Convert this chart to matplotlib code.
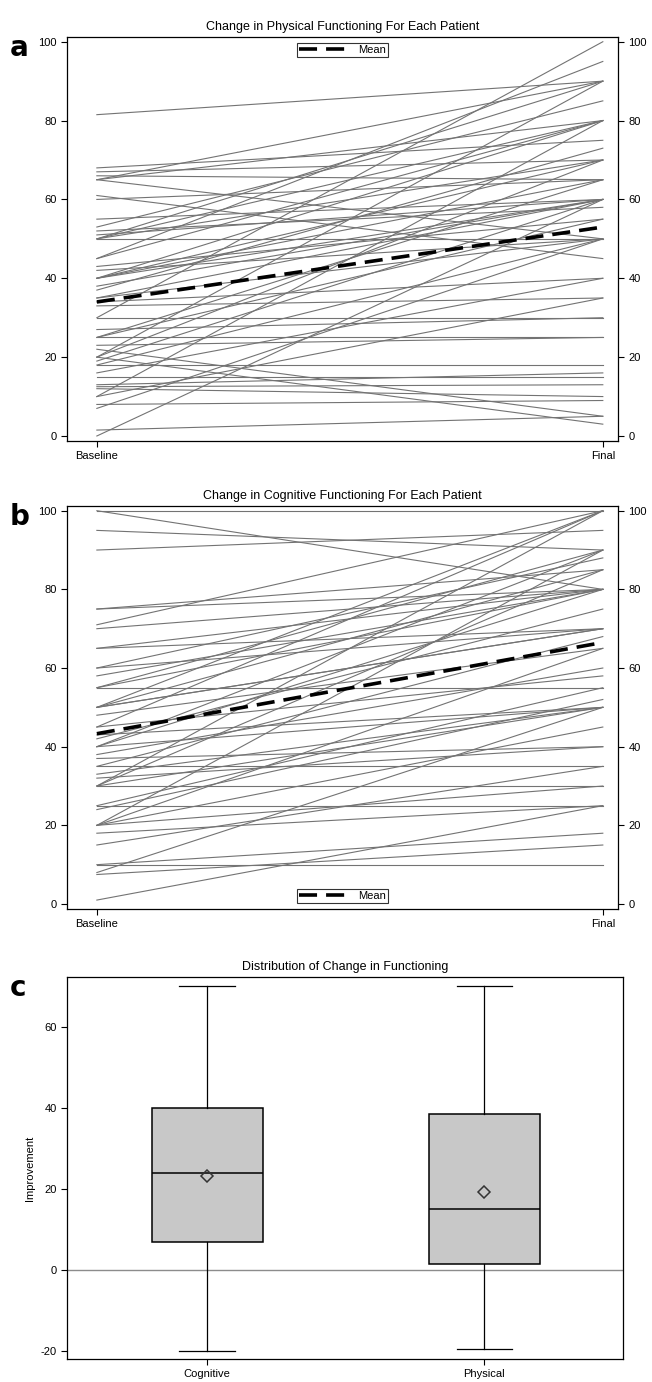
import matplotlib
matplotlib.use("Agg")
import matplotlib.pyplot as plt
import numpy as np

plt.rcParams['font.family'] = ['Liberation Sans', 'DejaVu Sans']
plt.rcParams['axes.unicode_minus'] = False

# physical functioning, baseline -> final for each patient
phys_base = [81.5, 68, 67, 66, 65, 65, 61, 60, 55, 53, 52, 51, 50, 50, 50, 45, 45, 43, 42,
             40, 40, 40, 38, 37, 35, 35, 34, 33, 30, 27, 25, 25, 23, 22, 30, 20, 20, 19,
             18, 18, 16, 15, 13, 12.5, 12, 10, 10, 8, 7, 1.5, 0, 20, 65, 25, 40, 50]
phys_final = [90, 75, 70, 65, 50, 80, 45, 65, 60, 85, 58, 60, 50, 90, 70, 95, 80, 55, 50,
              80, 70, 65, 60, 73, 60, 50, 40, 35, 30, 30, 65, 25, 25, 5, 100, 90, 70, 60,
              18, 50, 40, 15, 16, 13, 10, 80, 35, 9, 50, 5, 60, 3, 90, 55, 60, 80]
phys_mean = [34, 53]

# cognitive functioning, baseline -> final for each patient
cog_base = [100, 100, 95, 90, 75, 75, 71, 70, 65, 60, 60, 58, 55, 55, 50, 50, 50, 48, 45,
            45, 43, 42, 40, 40, 38, 37, 35, 35, 33, 32, 30, 30, 30, 25, 25, 24, 20, 20,
            20, 20, 18, 15, 10, 10, 8, 7.5, 1, 65, 55, 50, 40, 30]
cog_final = [80, 100, 90, 95, 85, 80, 100, 80, 80, 88, 70, 80, 90, 55, 100, 70, 85, 65, 100,
             58, 50, 75, 90, 50, 60, 40, 68, 35, 50, 40, 100, 30, 85, 55, 25, 52, 90, 65,
             45, 30, 25, 35, 10, 18, 50, 15, 25, 70, 80, 70, 80, 50]
cog_mean = [43.3, 66.5]

time_labels = ['Baseline', 'Final']

# box statistics of improvement (final - baseline)
groups = ['Cognitive', 'Physical']
box_lo = [-20, -19.5]
box_q1 = [7, 1.5]
box_med = [24, 15]
box_q3 = [40, 38.5]
box_hi = [70, 70]
box_mean = [23.2, 19.3]

fig = plt.figure(figsize=(6.52, 13.82), dpi=100)
W, H = 652.0, 1382.0

def px_axes(x0, y0, x1, y1):
    return fig.add_axes([x0 / W, 1 - y1 / H, (x1 - x0) / W, (y1 - y0) / H])

def spaghetti(ax, base, final, mean, title, legend_loc):
    xs = [0, 1]
    for b, f in zip(base, final):
        ax.plot(xs, [b, f], color='0.45', lw=0.8, zorder=2)
    ln, = ax.plot(xs, mean, color='black', lw=2.6, dashes=(5, 2.5), zorder=3)
    ax.set_xlim(-0.059, 1.03)
    ax.set_ylim(-1.27, 101.2)
    ax.set_xticks(xs)
    ax.set_xticklabels(time_labels, fontsize=8)
    ax.set_yticks([0, 20, 40, 60, 80, 100])
    ax.tick_params(axis='y', right=True, labelright=True, labelsize=8, length=4, width=0.8)
    ax.tick_params(axis='x', length=4, width=0.8, pad=3)
    for s in ax.spines.values():
        s.set_linewidth(0.9)
    ax.set_title(title, fontsize=9, pad=5)
    ax.legend([ln], ['Mean'], loc=legend_loc, fontsize=8, frameon=True, fancybox=False,
              edgecolor='black', handlelength=4.5, borderpad=0.2, borderaxespad=0.5,
              handletextpad=0.8).get_frame().set_linewidth(0.8)

ax1 = px_axes(67, 37, 618, 441)
spaghetti(ax1, phys_base, phys_final, phys_mean,
          'Change in Physical Functioning For Each Patient', 'upper center')

ax2 = px_axes(67, 506, 618, 909)
spaghetti(ax2, cog_base, cog_final, cog_mean,
          'Change in Cognitive Functioning For Each Patient', 'lower center')

ax3 = px_axes(67, 977, 623, 1359)
stats = []
for i in range(len(groups)):
    stats.append(dict(label=groups[i], whislo=box_lo[i], q1=box_q1[i], med=box_med[i],
                      q3=box_q3[i], whishi=box_hi[i], mean=box_mean[i], fliers=[]))
ax3.axhline(0, color='0.55', lw=1, zorder=1)
ax3.bxp(stats, positions=[1, 2], widths=0.4, capwidths=0.2, patch_artist=True,
        showmeans=True, showfliers=False,
        boxprops=dict(facecolor='#c8c8c8', edgecolor='black', linewidth=1.1),
        medianprops=dict(color='black', linewidth=1.1),
        whiskerprops=dict(color='black', linewidth=0.9),
        capprops=dict(color='black', linewidth=0.9),
        meanprops=dict(marker='D', markerfacecolor='none', markeredgecolor='0.2',
                       markersize=6, markeredgewidth=1.1))
ax3.set_xlim(0.495, 2.5)
ax3.set_ylim(-22, 72.3)
ax3.set_yticks([-20, 0, 20, 40, 60])
ax3.tick_params(labelsize=8, length=4, width=0.8)
ax3.set_ylabel('Improvement', fontsize=8)
ax3.set_title('Distribution of Change in Functioning', fontsize=9, pad=5)
for s in ax3.spines.values():
    s.set_linewidth(0.9)

for letter, y in [('a', 48), ('b', 517), ('c', 988)]:
    fig.text(10 / W, 1 - y / H, letter, fontsize=20, fontweight='bold', va='center',
             family='DejaVu Sans')

fig.savefig('out.png', dpi=100)
